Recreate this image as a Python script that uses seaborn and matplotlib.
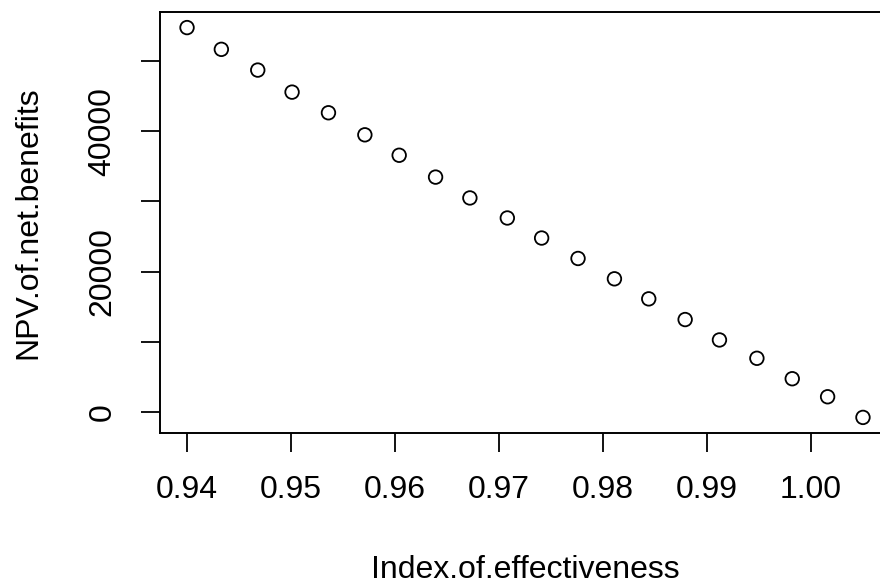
import matplotlib
matplotlib.use("Agg")
import matplotlib.pyplot as plt
import seaborn as sns
import pandas as pd

index_of_effectiveness = [0.9400, 0.9433, 0.9468, 0.9501, 0.9536, 0.9571, 0.9604, 0.9639,
                          0.9672, 0.9708, 0.9741, 0.9776, 0.9811, 0.9844, 0.9879, 0.9912,
                          0.9948, 0.9982, 1.0016, 1.0050]
npv_of_net_benefits = [54771, 51671, 48714, 45571, 42629, 39486, 36571, 33457,
                       30486, 27629, 24771, 21857, 18957, 16100, 13150, 10243,
                       7629, 4714, 2143, -800]
x_ticks = [0.94, 0.95, 0.96, 0.97, 0.98, 0.99, 1.00]
x_tick_labels = ["0.94", "0.95", "0.96", "0.97", "0.98", "0.99", "1.00"]
y_ticks = [0, 10000, 20000, 30000, 40000, 50000]
y_tick_labels = ["0", "", "20000", "", "40000", ""]

df = pd.DataFrame({"Index.of.effectiveness": index_of_effectiveness,
                   "NPV.of.net.benefits": npv_of_net_benefits})

sns.set_style("white")
plt.rcParams["font.family"] = ["Liberation Sans", "DejaVu Sans"]
FS = 23

fig = plt.figure(figsize=(8.8, 5.85), dpi=100)
ax = fig.add_axes([160 / 880, 1 - 433 / 585, (890 - 160) / 880, (433 - 12) / 585])

sns.scatterplot(data=df, x="Index.of.effectiveness", y="NPV.of.net.benefits", ax=ax,
                marker="o", s=95, facecolor="none", edgecolor="black", linewidth=1.3,
                legend=False)

# R-style 4% padding
xr = max(index_of_effectiveness) - min(index_of_effectiveness)
yr = max(npv_of_net_benefits) - min(npv_of_net_benefits)
ax.set_xlim(min(index_of_effectiveness) - 0.04 * xr, max(index_of_effectiveness) + 0.04 * xr)
ax.set_ylim(min(npv_of_net_benefits) - 0.04 * yr, max(npv_of_net_benefits) + 0.04 * yr)

ax.set_xticks(x_ticks)
ax.set_xticklabels(x_tick_labels, fontsize=FS)
ax.set_yticks(y_ticks)
ax.set_yticklabels(y_tick_labels, fontsize=FS, rotation=90, va="center")

ax.tick_params(axis="both", direction="out", length=13.5, width=1.3, color="black",
               labelcolor="black", bottom=True, left=True)
ax.tick_params(axis="x", pad=17)
ax.tick_params(axis="y", pad=17)

for s in ax.spines.values():
    s.set_visible(True)
    s.set_color("black")
    s.set_linewidth(1.4)

ax.set_xlabel("Index.of.effectiveness", fontsize=FS, color="black")
ax.set_ylabel("NPV.of.net.benefits", fontsize=FS, color="black")
ax.xaxis.set_label_coords(0.5, (433 - 555) / 421)
ax.yaxis.set_label_coords((43 - 160) / 730, 0.5)
ax.grid(False)

fig.savefig("out.png", dpi=100)
